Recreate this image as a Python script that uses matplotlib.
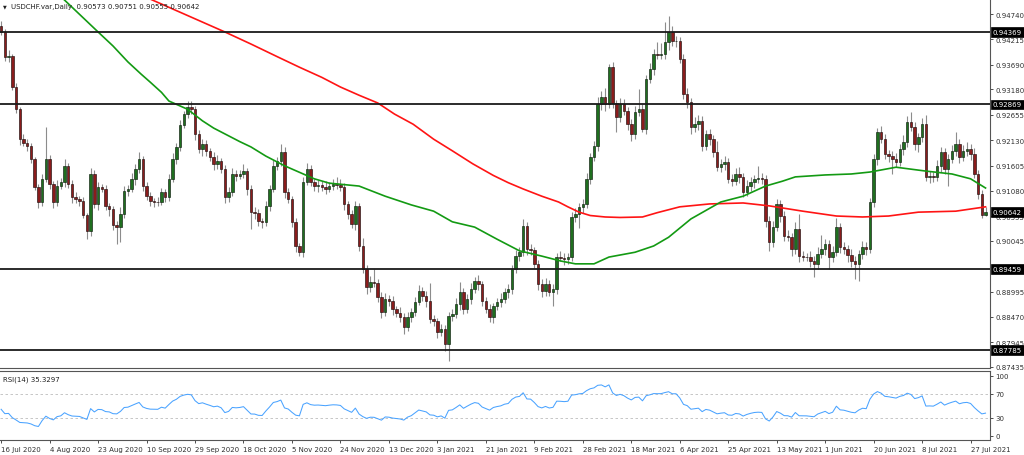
import numpy as np
import matplotlib
matplotlib.use("Agg")
import matplotlib.pyplot as plt
import matplotlib.transforms as mtransforms

plt.rcParams['font.family'] = ['DejaVu Sans']

# ---------------- data ----------------
title_text = "USDCHF.var,Daily  0.90573 0.90751 0.90555 0.90642"
rsi_title = "RSI(14) 35.3297"

first_open = 0.94500
closes = [
    0.94369, 0.93851, 0.93872, 0.93230, 0.92775, 0.92154, 0.92071, 0.92009, 0.91740, 0.91160,
    0.90850, 0.91326, 0.91740, 0.91223, 0.90850, 0.91181, 0.91264, 0.91595, 0.91223, 0.90953,
    0.90912, 0.90871, 0.90581, 0.90250, 0.91430, 0.90809, 0.91160, 0.91119, 0.90767, 0.90705,
    0.90374, 0.90332, 0.90602, 0.91078, 0.91119, 0.91326, 0.91533, 0.91740, 0.91181, 0.90974,
    0.90871, 0.90860, 0.90850, 0.91057, 0.90953, 0.91326, 0.91740, 0.91988, 0.92444, 0.92672,
    0.92816, 0.92775, 0.92258, 0.91947, 0.92051, 0.91906, 0.91781, 0.91637, 0.91699, 0.91533,
    0.90953, 0.91057, 0.91430, 0.91388, 0.91420, 0.91492, 0.91119, 0.90643, 0.90630, 0.90457,
    0.90436, 0.90767, 0.91119, 0.91595, 0.91699, 0.91885, 0.91057, 0.90912, 0.90436, 0.89939,
    0.89815, 0.91264, 0.91533, 0.91264, 0.91181, 0.91202, 0.91160, 0.91119, 0.91181, 0.91223,
    0.91210, 0.91160, 0.90809, 0.90602, 0.90395, 0.90767, 0.89939, 0.89463, 0.89090, 0.89194,
    0.89180, 0.88883, 0.88573, 0.88842, 0.88801, 0.88635, 0.88552, 0.88469, 0.88262, 0.88469,
    0.88573, 0.88780, 0.89008, 0.88904, 0.88801, 0.88428, 0.88387, 0.88159, 0.88221, 0.87911,
    0.88490, 0.88532, 0.88739, 0.88987, 0.88635, 0.88842, 0.89049, 0.89215, 0.89153, 0.88801,
    0.88635, 0.88469, 0.88697, 0.88780, 0.88842, 0.88987, 0.89049, 0.89463, 0.89732, 0.89815,
    0.90353, 0.89877, 0.89860, 0.89567, 0.89153, 0.89008, 0.89153, 0.88987, 0.89049, 0.89711,
    0.89700, 0.89670, 0.89711, 0.90539, 0.90602, 0.90746, 0.90809, 0.91326, 0.91781, 0.92009,
    0.92879, 0.93023, 0.92879, 0.93644, 0.92890, 0.92609, 0.92879, 0.92734, 0.92465, 0.92258,
    0.92713, 0.92775, 0.92361, 0.93396, 0.93603, 0.93914, 0.93900, 0.93920, 0.94162, 0.94369,
    0.94183, 0.94190, 0.93810, 0.93086, 0.92920, 0.92402, 0.92465, 0.92527, 0.92009, 0.92258,
    0.92154, 0.91885, 0.91574, 0.91637, 0.91678, 0.91326, 0.91285, 0.91430, 0.91367, 0.91057,
    0.91181, 0.91264, 0.91326, 0.91347, 0.91326, 0.90457, 0.90022, 0.90332, 0.90809, 0.90560,
    0.90146, 0.90125, 0.89877, 0.90291, 0.89732, 0.89720, 0.89711, 0.89629, 0.89567, 0.89774,
    0.89877, 0.89981, 0.89711, 0.89815, 0.90332, 0.89918, 0.89877, 0.89753, 0.89629, 0.89567,
    0.89774, 0.89918, 0.89877, 0.90850, 0.91740, 0.92299, 0.92154, 0.91844, 0.91802, 0.91740,
    0.91678, 0.91947, 0.92092, 0.92506, 0.92402, 0.92051, 0.92195, 0.92465, 0.91367, 0.91388,
    0.91360, 0.91595, 0.91885, 0.91533, 0.91740, 0.91906, 0.92051, 0.91781, 0.91906, 0.91947,
    0.91844, 0.91430, 0.91016, 0.90573, 0.90642,
]

# wick lengths beyond the candle body, in pips (0.0001)
upper_wick_pips = [
    10, 6, 12, 5, 8, 4, 10, 8, 6, 5,
    6, 10, 66, 8, 6, 12, 8, 14, 6, 8,
    10, 6, 8, 4, 12, 8, 10, 6, 8, 6,
    6, 8, 14, 10, 8, 12, 10, 14, 6, 8,
    8, 6, 10, 8, 6, 10, 12, 8, 10, 6,
    12, 12, 6, 8, 10, 8, 6, 10, 12, 6,
    8, 10, 12, 8, 10, 14, 6, 8, 10, 8,
    6, 10, 8, 12, 8, 16, 10, 8, 6, 8,
    6, 10, 12, 8, 6, 10, 8, 12, 8, 10,
    14, 12, 8, 6, 8, 10, 6, 16, 8, 12,
    27, 8, 10, 12, 8, 10, 6, 12, 8, 10,
    8, 10, 12, 8, 10, 38, 8, 6, 10, 8,
    8, 10, 12, 20, 8, 10, 12, 8, 12, 6,
    8, 10, 6, 8, 12, 8, 10, 8, 12, 10,
    14, 8, 10, 6, 8, 10, 12, 8, 10, 8,
    12, 10, 8, 10, 12, 8, 10, 12, 8, 10,
    14, 12, 18, 6, 10, 8, 12, 10, 8, 10,
    12, 41, 10, 8, 12, 10, 25, 22, 41, 33,
    12, 10, 8, 10, 12, 8, 14, 12, 10, 8,
    10, 8, 23, 10, 12, 8, 10, 12, 14, 8,
    12, 10, 8, 24, 10, 8, 10, 12, 10, 8,
    10, 12, 8, 14, 31, 10, 8, 12, 10, 14,
    30, 10, 8, 12, 18, 8, 10, 8, 12, 10,
    8, 12, 10, 8, 10, 8, 12, 10, 8, 10,
    12, 10, 14, 12, 21, 10, 8, 12, 18, 10,
    8, 12, 10, 8, 10, 12, 25, 10, 12, 14,
    10, 12, 8, 8, 10.9,
]
lower_wick_pips = [
    6, 8, 10, 6, 8, 12, 6, 10, 8, 6,
    12, 8, 6, 10, 12, 8, 6, 10, 8, 12,
    8, 10, 6, 17, 10, 8, 12, 6, 8, 14,
    10, 35, 30, 8, 10, 6, 12, 8, 10, 8,
    10, 12, 8, 6, 10, 8, 6, 10, 8, 6,
    8, 10, 12, 8, 14, 10, 8, 12, 10, 8,
    12, 10, 8, 10, 6, 8, 12, 35, 14, 10,
    12, 8, 10, 6, 8, 10, 12, 8, 10, 12,
    8, 10, 6, 8, 10, 12, 8, 10, 6, 8,
    10, 8, 12, 10, 8, 12, 10, 8, 14, 10,
    8, 10, 12, 8, 10, 12, 8, 10, 14, 8,
    10, 8, 6, 10, 12, 8, 10, 12, 8, 14,
    35, 10, 8, 12, 10, 8, 10, 8, 12, 10,
    8, 10, 12, 8, 10, 8, 12, 10, 8, 10,
    8, 12, 10, 8, 12, 12, 10, 8, 29, 10,
    8, 12, 10, 8, 10, 28, 12, 8, 10, 8,
    10, 12, 14, 8, 10, 31, 10, 8, 12, 15,
    10, 8, 6, 10, 8, 12, 10, 8, 10, 16,
    10, 12, 8, 10, 12, 14, 10, 12, 10, 8,
    12, 10, 8, 10, 12, 8, 10, 8, 12, 10,
    8, 10, 12, 8, 10, 12, 18, 10, 8, 12,
    10, 8, 14, 10, 12, 10, 8, 12, 27, 10,
    8, 12, 25, 10, 8, 12, 10, 14, 12, 31,
    35, 10, 12, 8, 10, 12, 8, 10, 12, 31,
    10, 8, 12, 10, 8, 12, 16, 10, 8, 12,
    10, 8, 12, 10, 36, 8, 10, 12, 8, 10,
    12, 8, 10, 6, 1.8,
]

date_labels = ['16 Jul 2020', '4 Aug 2020', '23 Aug 2020', '10 Sep 2020', '29 Sep 2020',
               '18 Oct 2020', '5 Nov 2020', '24 Nov 2020', '13 Dec 2020', '3 Jan 2021',
               '21 Jan 2021', '9 Feb 2021', '28 Feb 2021', '18 Mar 2021', '6 Apr 2021',
               '25 Apr 2021', '13 May 2021', '1 Jun 2021', '20 Jun 2021', '8 Jul 2021',
               '27 Jul 2021']
bars_per_label = 13

# moving averages, sampled at bar numbers
red_ma_bar = [37, 40, 50, 60, 67, 74, 80, 86, 91, 96, 101, 105.5, 110.5, 116, 121, 126.5,
              132, 136, 140, 145, 149.5, 152, 155, 158, 162, 166, 172, 176, 182, 190, 199,
              206, 215, 224, 231, 238, 246, 256, 264]
red_ma_val = [0.9522, 0.9505, 0.9471, 0.9437, 0.9412, 0.9386, 0.9364, 0.9343, 0.9323,
              0.9306, 0.9290, 0.9267, 0.9246, 0.9215, 0.9191, 0.9164, 0.9140, 0.9125,
              0.9112, 0.9097, 0.9085, 0.9075, 0.9064, 0.9057, 0.9054, 0.9053, 0.9054,
              0.9063, 0.9075, 0.9081, 0.9083, 0.9077, 0.9066, 0.9056, 0.9054, 0.9056,
              0.9064, 0.9066, 0.9075]
green_ma_bar = [10, 17, 21.5, 26, 30, 34, 37.5, 40, 43, 45, 50, 54, 57, 61, 64, 67, 71, 76,
                84, 88, 96, 103, 110, 116, 121, 127, 133, 139, 145, 150, 154, 159, 163,
                170, 175, 179, 185, 193, 199, 205, 209.5, 213, 221, 228, 233, 240, 248,
                255, 260, 264]
green_ma_val = [0.9555, 0.9503, 0.9470, 0.9437, 0.9408, 0.9375, 0.9350, 0.9333, 0.9312,
                0.9294, 0.9277, 0.9253, 0.9238, 0.9222, 0.9210, 0.9199, 0.9180, 0.9160,
                0.9133, 0.9124, 0.9118, 0.9097, 0.9079, 0.9066, 0.9044, 0.9033, 0.9008,
                0.8984, 0.8973, 0.8963, 0.8957, 0.8957, 0.8971, 0.8981, 0.8994, 0.9012,
                0.9050, 0.9085, 0.9097, 0.9118, 0.9128, 0.9137, 0.9141, 0.9143, 0.9147,
                0.9157, 0.9149, 0.9143, 0.9133, 0.9114]

level_lines = [0.94369, 0.92869, 0.89459, 0.87785]
last_price = 0.90642
price_ticks = [0.94740, 0.94215, 0.93690, 0.93180, 0.92655, 0.92130, 0.91605, 0.91080,
               0.90555, 0.90045, 0.88995, 0.88470, 0.87945, 0.87435]
rsi_ticks = [0, 30, 70, 100]
rsi_levels = [30, 70]
rsi_start = 44.0
rsi_period = 14

# ---------------- derived series ----------------
closes_a = np.array(closes)
opens_a = np.r_[first_open, closes_a[:-1]]
highs_a = np.maximum(opens_a, closes_a) + np.array(upper_wick_pips) / 1e4
lows_a = np.minimum(opens_a, closes_a) - np.array(lower_wick_pips) / 1e4
n = len(closes_a)
xs = np.arange(n)

# Wilder RSI from the closes
ag = rsi_start / 100 * 0.002
al = (1 - rsi_start / 100) * 0.002
rsi = [rsi_start]
for d in np.diff(closes_a):
    ag = (ag * (rsi_period - 1) + max(d, 0)) / rsi_period
    al = (al * (rsi_period - 1) + max(-d, 0)) / rsi_period
    rsi.append(100 * ag / (ag + al))
rsi = np.array(rsi)

# ---------------- figure ----------------
W, H = 1024, 456
fig = plt.figure(figsize=(W / 100, H / 100), dpi=100)
fig.patch.set_facecolor('white')

right_px = 990
ax = fig.add_axes([0, 1 - 369 / H, right_px / W, 369 / H])
ax2 = fig.add_axes([0, 1 - 441 / H, right_px / W, (441 - 372) / H])

xlim = (-0.3, 265.2)
tick_color = '#303030'
spine_color = '#555555'
fs = 5.0

# candles
ax.vlines(xs, lows_a, highs_a, color='#8c8c8c', lw=0.8, zorder=2)
up = closes_a >= opens_a
body = closes_a - opens_a
body = np.where(np.abs(body) < 0.00004, np.where(up, 0.00004, -0.00004), body)
ax.bar(xs[up], body[up], bottom=opens_a[up], width=0.66, color='#1f6f1f',
       edgecolor='#102010', lw=0.45, zorder=3)
ax.bar(xs[~up], body[~up], bottom=opens_a[~up], width=0.66, color='#8a1c1c',
       edgecolor='#201010', lw=0.45, zorder=3)

# moving averages
ax.plot(red_ma_bar, red_ma_val, color='#ff1414', lw=1.2, zorder=4,
        solid_joinstyle='round')
ax.plot(green_ma_bar, green_ma_val, color='#139a13', lw=1.2, zorder=4,
        solid_joinstyle='round')

# horizontal levels
for lv in level_lines:
    ax.axhline(lv, color='#1a1a1a', lw=1.3, zorder=5)

ax.set_xlim(*xlim)
ax.set_ylim(0.87414, 0.95052)
ax.set_xticks([])
ax.yaxis.tick_right()
ax.set_yticks(price_ticks)
ax.set_yticklabels([f'{v:.5f}' for v in price_ticks])
ax.tick_params(axis='y', direction='out', length=2.5, width=0.6, colors=tick_color,
               labelsize=fs, pad=1.5)
for s in ['left', 'top']:
    ax.spines[s].set_visible(False)
for s in ['right', 'bottom']:
    ax.spines[s].set_color(spine_color)
    ax.spines[s].set_linewidth(0.8)

trans = mtransforms.blended_transform_factory(ax.transAxes, ax.transData)
for lv in level_lines + [last_price]:
    ax.text(1 + 3 / right_px, lv, f'{lv:.5f}', transform=trans, ha='left', va='center',
            color='white', fontsize=fs, zorder=20, clip_on=False,
            bbox=dict(boxstyle='square,pad=0.25', fc='black', ec='black', lw=0.5))

# RSI panel
ax2.plot(xs, rsi, color='#4aa3ff', lw=0.75, zorder=3)
for lv in rsi_levels:
    ax2.axhline(lv, color='#bdbdbd', lw=0.6, ls=(0, (3, 3)), zorder=1)
ax2.set_xlim(*xlim)
ax2.set_ylim(-7.2, 107.8)
ax2.yaxis.tick_right()
ax2.set_yticks(rsi_ticks)
ax2.set_yticklabels([str(t) for t in rsi_ticks])
ax2.tick_params(axis='y', direction='out', length=2.5, width=0.6, colors=tick_color,
                labelsize=fs, pad=1.5)
tick_bars = [k * bars_per_label for k in range(len(date_labels))]
ax2.set_xticks(tick_bars)
ax2.set_xticklabels(date_labels, ha='left')
ax2.tick_params(axis='x', direction='out', length=2.5, width=0.6, colors=tick_color,
                labelsize=fs, pad=1.5)
ax2.spines['left'].set_visible(False)
for s in ['right', 'bottom', 'top']:
    ax2.spines[s].set_color(spine_color)
    ax2.spines[s].set_linewidth(0.8)

# titles
fig.text(3 / W, 1 - 7 / H, '\u25bc', fontsize=3.5, color='#202020', va='center', ha='left')
fig.text(11 / W, 1 - 7 / H, title_text, fontsize=fs, color='#202020', va='center', ha='left')
fig.text(3 / W, 1 - 380 / H, rsi_title, fontsize=fs, color='#202020', va='center', ha='left')

fig.savefig('out.png', dpi=100, facecolor='white')
